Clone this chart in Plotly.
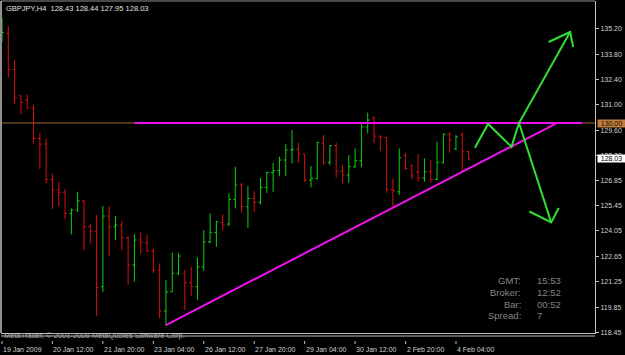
import plotly.graph_objects as go

# ---- data (H4 bars, GBPJPY) ----
bar_index = list(range(75))
opens = [134.60, 134.95, 132.96, 131.50, 131.27, 130.81, 129.15, 128.84, 126.89, 126.30,
         126.18, 125.02, 125.20, 125.70, 124.28, 124.04, 120.97, 124.87, 124.28, 124.37,
         123.67, 122.17, 123.55, 123.40, 122.94, 121.89, 119.63, 120.69, 121.71, 121.71,
         121.19, 120.97, 122.07, 123.45, 123.97, 124.52, 124.43, 125.79, 126.58, 125.38,
         125.84, 125.62, 126.45, 127.27, 127.37, 127.96, 128.51, 128.55, 128.29, 126.85,
         126.95, 128.88, 127.83, 128.75, 127.35, 127.13, 127.59, 127.92, 129.78, 130.26,
         129.28, 129.21, 126.33, 126.21, 128.23, 127.63, 127.29, 126.97, 127.31, 126.89,
         127.81, 129.38, 128.57, 129.34, 128.43]
highs = [135.78, 135.35, 133.47, 131.54, 131.58, 130.99, 129.46, 129.15, 127.19, 126.76,
         126.36, 125.29, 126.21, 125.75, 124.41, 124.93, 125.42, 125.38, 124.87, 124.59,
         123.73, 123.86, 123.97, 123.82, 123.09, 122.26, 121.34, 122.85, 122.82, 121.89,
         122.07, 122.59, 124.09, 125.02, 124.60, 124.96, 126.12, 127.59, 126.70, 126.52,
         126.24, 126.99, 127.31, 127.81, 128.14, 128.84, 129.61, 128.91, 128.29, 127.63,
         128.97, 129.34, 128.78, 128.91, 127.68, 128.23, 128.60, 129.98, 130.57, 130.39,
         129.28, 129.21, 126.94, 128.60, 128.33, 127.72, 128.29, 128.05, 127.96, 128.97,
         129.43, 129.49, 129.34, 129.49, 128.44]
lows = [134.47, 132.50, 131.05, 130.49, 130.81, 128.88, 127.46, 126.67, 125.26, 125.42,
        124.69, 123.86, 125.10, 123.00, 123.36, 119.37, 120.69, 122.66, 123.55, 123.00,
        121.10, 121.25, 122.78, 122.90, 121.74, 119.23, 118.82, 120.69, 121.62, 119.69,
        120.46, 120.24, 121.85, 123.36, 123.18, 124.09, 124.32, 125.29, 125.05, 124.22,
        125.10, 125.51, 126.15, 126.21, 127.06, 127.06, 127.78, 127.81, 126.76, 126.45,
        126.89, 127.68, 127.68, 126.99, 126.67, 126.70, 127.50, 127.56, 129.43, 128.88,
        128.45, 126.15, 125.40, 126.03, 127.41, 126.89, 126.76, 126.76, 126.70, 126.85,
        127.78, 128.36, 128.51, 127.35, 127.95]
closes = [135.00, 132.96, 131.39, 131.14, 130.81, 129.15, 128.84, 126.89, 126.30, 126.18,
          125.02, 125.20, 125.70, 124.28, 124.04, 120.94, 124.87, 124.28, 124.37, 123.67,
          122.17, 123.55, 123.40, 122.94, 121.89, 119.63, 120.69, 121.71, 122.66, 121.19,
          120.97, 122.07, 123.45, 123.97, 124.56, 124.37, 125.79, 126.58, 125.38, 125.84,
          125.62, 126.45, 127.27, 127.37, 127.96, 128.51, 128.55, 128.29, 126.85, 126.95,
          128.93, 127.83, 128.75, 127.35, 127.13, 127.59, 127.92, 129.78, 130.16, 129.28,
          129.21, 126.33, 126.26, 128.10, 127.50, 127.08, 126.97, 127.31, 126.89, 127.81,
          129.38, 129.07, 129.24, 128.42, 128.03]

x_tick_bars = [0, 8, 16, 24, 32, 40, 48, 56, 64, 72]
x_tick_labels = ["19 Jan 2009", "20 Jan 12:00", "21 Jan 20:00", "23 Jan 04:00", "26 Jan 12:00",
                 "27 Jan 20:00", "29 Jan 04:00", "30 Jan 12:00", "2 Feb 20:00", "4 Feb 04:00"]
y_tick_vals = [135.20, 133.80, 132.40, 131.00, 129.60, 128.20, 126.85, 125.45, 124.05,
               122.65, 121.25, 119.85, 118.45]
y_tick_labels = ["%.2f" % v for v in y_tick_vals]

hline_price = 130.00
last_price = 128.03
resist_x = [21, 92]
resist_y = [130.00, 130.00]
support_x = [26, 88]
support_y = [118.86, 130.00]
proj_x = [75.0, 77.1, 80.8, 82.0, 90.1, None, 86.7, 90.1, 90.6, None,
          82.0, 87.1, None, 83.65, 87.1, 88.3]
proj_y = [128.64, 129.95, 128.69, 130.0, 135.02, None, 134.47, 135.02, 134.19, None,
          130.0, 124.52, None, 125.12, 124.52, 125.31]

title_text = "GBPJPY,H4  128.43 128.44 127.95 128.03"
copyright_text = "MetaTrader, \u00a9 2001-2008 MetaQuotes Software Corp."
info_labels = ["GMT:", "Broker:", "Bar:", "Spread:"]
info_values = ["15:53", "12:52", "00:52", "7"]

# ---- figure ----
FONT = "Liberation Sans"
AXC = "#c0c0c0"
fig = go.Figure()

fig.add_shape(type="line", xref="paper", x0=0, x1=1, yref="y", y0=hline_price, y1=hline_price,
              line=dict(color="#9a6a38", width=1), layer="below")

fig.add_trace(go.Ohlc(
    x=bar_index, open=opens, high=highs, low=lows, close=closes,
    increasing=dict(line=dict(color="#10d010", width=1)),
    decreasing=dict(line=dict(color="#d81010", width=1)),
    tickwidth=0.32, showlegend=False, hoverinfo="skip"))

fig.add_trace(go.Scatter(x=resist_x, y=resist_y, mode="lines",
                         line=dict(color="#f010f0", width=2), showlegend=False, hoverinfo="skip"))
fig.add_trace(go.Scatter(x=support_x, y=support_y, mode="lines",
                         line=dict(color="#f010f0", width=2), showlegend=False, hoverinfo="skip"))
fig.add_trace(go.Scatter(x=proj_x, y=proj_y, mode="lines", connectgaps=False,
                         line=dict(color="#30e030", width=2), showlegend=False, hoverinfo="skip"))

# borders
fig.add_shape(type="line", xref="paper", yref="paper", x0=0, x1=0, y0=0, y1=1,
              line=dict(color="#909090", width=2))
fig.add_shape(type="line", xref="paper", yref="paper", x0=0, x1=1, y0=1, y1=1,
              line=dict(color="#909090", width=1))
fig.add_shape(type="line", xref="paper", x0=0, x1=1, yref="paper", ysizemode="pixel",
              yanchor=0, y0=-3, y1=-3, line=dict(color=AXC, width=1))
# x ticks
for b in x_tick_bars:
    fig.add_shape(type="line", xref="x", x0=b, x1=b, yref="paper", ysizemode="pixel",
                  yanchor=0, y0=-8, y1=-11, line=dict(color=AXC, width=1))

annotations = []
for b, lab in zip(x_tick_bars, x_tick_labels):
    annotations.append(dict(x=b, xref="x", y=0, yref="paper", yanchor="middle", yshift=-16,
                            xanchor="left", xshift=-1, text=lab, showarrow=False,
                            font=dict(family=FONT, size=7, color="#d0d0d0")))
annotations.append(dict(x=0, xref="paper", y=1, yref="paper", xanchor="left", yanchor="middle",
                        xshift=3, yshift=-7, text=title_text, showarrow=False,
                        font=dict(family=FONT, size=7.5, color="#e0e0e0")))
annotations.append(dict(x=0, xref="paper", y=0, yref="paper", xanchor="left", yanchor="middle",
                        xshift=1, yshift=-2, text=copyright_text, showarrow=False,
                        font=dict(family=FONT, size=7.5, color="#a8a8a8")))
info_y = [0.157, 0.121, 0.087, 0.052]
for lab, val, yy in zip(info_labels, info_values, info_y):
    annotations.append(dict(x=0.878, xref="paper", y=yy, yref="paper", xanchor="right",
                            yanchor="middle", text=lab, showarrow=False,
                            font=dict(family=FONT, size=9.5, color="#858585")))
    annotations.append(dict(x=0.899, xref="paper", y=yy, yref="paper", xanchor="left",
                            yanchor="middle", text=val, showarrow=False,
                            font=dict(family=FONT, size=9.5, color="#858585")))
annotations.append(dict(x=1, xref="paper", y=hline_price, yref="y", xanchor="left",
                        yanchor="middle", xshift=2, text="%.2f" % hline_price, showarrow=False,
                        bgcolor="#c07a3a", borderpad=0, width=27,
                        font=dict(family=FONT, size=7, color="#101010")))
annotations.append(dict(x=1, xref="paper", y=last_price, yref="y", xanchor="left",
                        yanchor="middle", xshift=2, text="%.2f" % last_price, showarrow=False,
                        bgcolor="#ffffff", borderpad=0, width=27,
                        font=dict(family=FONT, size=7, color="#000000")))

fig.update_layout(
    width=625, height=355,
    margin=dict(l=1, r=30, t=1, b=22),
    paper_bgcolor="#000000", plot_bgcolor="#000000",
    showlegend=False,
    annotations=annotations,
    xaxis=dict(range=[-0.16, 94.05], showgrid=False, zeroline=False, showticklabels=False,
               showline=True, linecolor=AXC, linewidth=1, ticks="",
               rangeslider=dict(visible=False), fixedrange=True),
    yaxis=dict(range=[118.42, 136.73], side="right", showgrid=False, zeroline=False,
               tickvals=y_tick_vals, ticktext=y_tick_labels, ticks="outside", ticklen=3,
               tickcolor=AXC, showline=True, linecolor=AXC, linewidth=1,
               tickfont=dict(family=FONT, size=7, color="#d0d0d0"), fixedrange=True),
)

fig.write_html("out.html")
